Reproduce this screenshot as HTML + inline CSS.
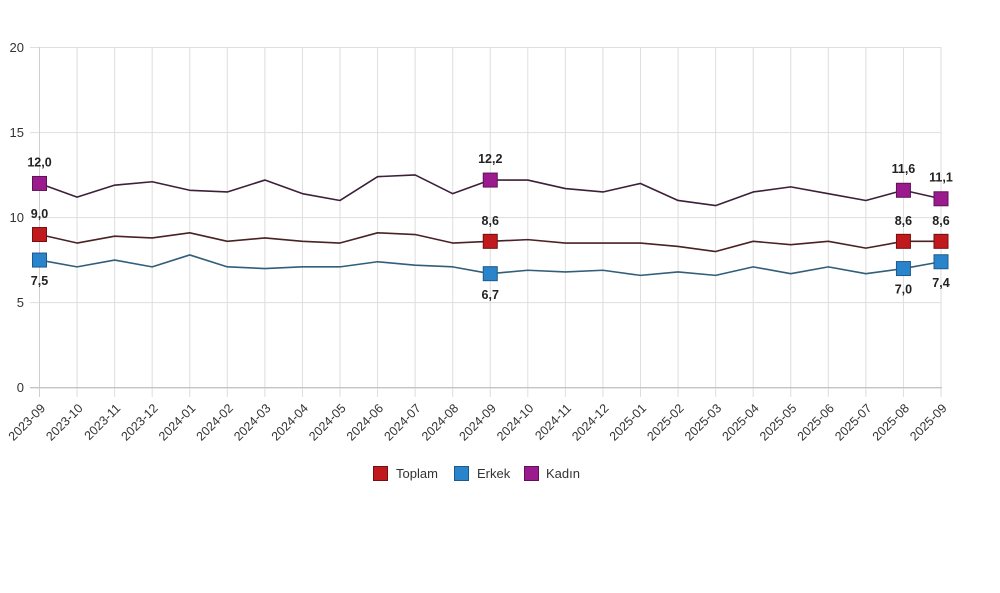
<!DOCTYPE html>
<html>
<head>
<meta charset="utf-8">
<style>
html,body{margin:0;padding:0;background:#fff;}
svg{display:block;font-family:"Liberation Sans",Arial,sans-serif;}
</style>
</head>
<body>
<svg width="1000" height="593" viewBox="0 0 1000 593" xmlns="http://www.w3.org/2000/svg">
<rect width="1000" height="593" fill="#fff"/>
<!-- horizontal grid -->
<g stroke="#dedede" stroke-width="1">
<line x1="30" y1="47.5" x2="941" y2="47.5"/>
<line x1="30" y1="132.6" x2="941" y2="132.6"/>
<line x1="30" y1="217.6" x2="941" y2="217.6"/>
<line x1="30" y1="302.6" x2="941" y2="302.6"/>
</g>
<!-- vertical grid -->
<g stroke="#dedede" stroke-width="1">
<line x1="77.06" y1="47" x2="77.06" y2="397"/>
<line x1="114.63" y1="47" x2="114.63" y2="397"/>
<line x1="152.19" y1="47" x2="152.19" y2="397"/>
<line x1="189.75" y1="47" x2="189.75" y2="397"/>
<line x1="227.31" y1="47" x2="227.31" y2="397"/>
<line x1="264.88" y1="47" x2="264.88" y2="397"/>
<line x1="302.44" y1="47" x2="302.44" y2="397"/>
<line x1="340" y1="47" x2="340" y2="397"/>
<line x1="377.56" y1="47" x2="377.56" y2="397"/>
<line x1="415.13" y1="47" x2="415.13" y2="397"/>
<line x1="452.69" y1="47" x2="452.69" y2="397"/>
<line x1="490.25" y1="47" x2="490.25" y2="397"/>
<line x1="527.81" y1="47" x2="527.81" y2="397"/>
<line x1="565.38" y1="47" x2="565.38" y2="397"/>
<line x1="602.94" y1="47" x2="602.94" y2="397"/>
<line x1="640.5" y1="47" x2="640.5" y2="397"/>
<line x1="678.06" y1="47" x2="678.06" y2="397"/>
<line x1="715.63" y1="47" x2="715.63" y2="397"/>
<line x1="753.19" y1="47" x2="753.19" y2="397"/>
<line x1="790.75" y1="47" x2="790.75" y2="397"/>
<line x1="828.31" y1="47" x2="828.31" y2="397"/>
<line x1="865.88" y1="47" x2="865.88" y2="397"/>
<line x1="903.44" y1="47" x2="903.44" y2="397"/>
<line x1="941" y1="47" x2="941" y2="397"/>
</g>
<line x1="39.5" y1="47" x2="39.5" y2="397" stroke="#cfcfcf" stroke-width="1"/>
<line x1="30" y1="387.7" x2="942" y2="387.7" stroke="#c4c4c4" stroke-width="1.3"/>

<!-- y labels -->
<g font-size="13" fill="#333" text-anchor="end">
<text x="24" y="52">20</text>
<text x="24" y="137">15</text>
<text x="24" y="222">10</text>
<text x="24" y="307">5</text>
<text x="24" y="392">0</text>
</g>

<!-- x labels -->
<g font-size="12.5" fill="#333" text-anchor="end">
<text transform="translate(46,409) rotate(-45)">2023-09</text>
<text transform="translate(83.56,409) rotate(-45)">2023-10</text>
<text transform="translate(121.13,409) rotate(-45)">2023-11</text>
<text transform="translate(158.69,409) rotate(-45)">2023-12</text>
<text transform="translate(196.25,409) rotate(-45)">2024-01</text>
<text transform="translate(233.81,409) rotate(-45)">2024-02</text>
<text transform="translate(271.38,409) rotate(-45)">2024-03</text>
<text transform="translate(308.94,409) rotate(-45)">2024-04</text>
<text transform="translate(346.5,409) rotate(-45)">2024-05</text>
<text transform="translate(384.06,409) rotate(-45)">2024-06</text>
<text transform="translate(421.63,409) rotate(-45)">2024-07</text>
<text transform="translate(459.19,409) rotate(-45)">2024-08</text>
<text transform="translate(496.75,409) rotate(-45)">2024-09</text>
<text transform="translate(534.31,409) rotate(-45)">2024-10</text>
<text transform="translate(571.88,409) rotate(-45)">2024-11</text>
<text transform="translate(609.44,409) rotate(-45)">2024-12</text>
<text transform="translate(647,409) rotate(-45)">2025-01</text>
<text transform="translate(684.56,409) rotate(-45)">2025-02</text>
<text transform="translate(722.13,409) rotate(-45)">2025-03</text>
<text transform="translate(759.69,409) rotate(-45)">2025-04</text>
<text transform="translate(797.25,409) rotate(-45)">2025-05</text>
<text transform="translate(834.81,409) rotate(-45)">2025-06</text>
<text transform="translate(872.38,409) rotate(-45)">2025-07</text>
<text transform="translate(909.94,409) rotate(-45)">2025-08</text>
<text transform="translate(947.5,409) rotate(-45)">2025-09</text>
</g>

<!-- series lines -->
<g fill="none" stroke-width="1.6" stroke-linejoin="round">
<polyline stroke="#3e1f3a" points="39.5,183.46 77.06,197.08 114.63,185.16 152.19,181.76 189.75,190.27 227.31,191.97 264.88,180.06 302.44,193.67 340,200.48 377.56,176.65 415.13,174.95 452.69,193.67 490.25,180.06 527.81,180.06 565.38,188.57 602.94,191.97 640.5,183.46 678.06,200.48 715.63,205.59 753.19,191.97 790.75,186.86 828.31,193.67 865.88,200.48 903.44,190.27 941,198.78"/>
<polyline stroke="#4a2124" points="39.5,234.52 77.06,243.03 114.63,236.22 152.19,237.92 189.75,232.82 227.31,241.33 264.88,237.92 302.44,241.33 340,243.03 377.56,232.82 415.13,234.52 452.69,243.03 490.25,241.33 527.81,239.63 565.38,243.03 602.94,243.03 640.5,243.03 678.06,246.43 715.63,251.54 753.19,241.33 790.75,244.73 828.31,241.33 865.88,248.14 903.44,241.33 941,241.33"/>
<polyline stroke="#315e7a" points="39.5,260.05 77.06,266.86 114.63,260.05 152.19,266.86 189.75,254.94 227.31,266.86 264.88,268.56 302.44,266.86 340,266.86 377.56,261.75 415.13,265.16 452.69,266.86 490.25,273.67 527.81,270.26 565.38,271.96 602.94,270.26 640.5,275.37 678.06,271.96 715.63,275.37 753.19,266.86 790.75,273.67 828.31,266.86 865.88,273.67 903.44,268.56 941,261.75"/>
</g>

<!-- markers -->
<g stroke-width="1">
<g fill="#9b1b8e" stroke="#5e1256">
<rect x="32.5" y="176.46" width="14" height="14"/>
<rect x="483.25" y="173.06" width="14" height="14"/>
<rect x="896.44" y="183.27" width="14" height="14"/>
<rect x="934" y="191.78" width="14" height="14"/>
</g>
<g fill="#c01a1c" stroke="#731012">
<rect x="32.5" y="227.52" width="14" height="14"/>
<rect x="483.25" y="234.33" width="14" height="14"/>
<rect x="896.44" y="234.33" width="14" height="14"/>
<rect x="934" y="234.33" width="14" height="14"/>
</g>
<g fill="#2a84cc" stroke="#1d5a8c">
<rect x="32.5" y="253.05" width="14" height="14"/>
<rect x="483.25" y="266.67" width="14" height="14"/>
<rect x="896.44" y="261.56" width="14" height="14"/>
<rect x="934" y="254.75" width="14" height="14"/>
</g>
</g>

<!-- data labels -->
<g font-size="12.5" font-weight="bold" fill="#222" text-anchor="middle">
<text x="39.5" y="166.5">12,0</text>
<text x="490.25" y="163">12,2</text>
<text x="903.44" y="173">11,6</text>
<text x="941" y="181.5">11,1</text>
<text x="39.5" y="218">9,0</text>
<text x="490.25" y="225">8,6</text>
<text x="903.44" y="225">8,6</text>
<text x="941" y="225">8,6</text>
<text x="39.5" y="285">7,5</text>
<text x="490.25" y="299">6,7</text>
<text x="903.44" y="293.5">7,0</text>
<text x="941" y="287">7,4</text>
</g>

<!-- legend -->
<g font-size="13" fill="#333">
<rect x="373.5" y="466.5" width="14" height="14" fill="#c01a1c" stroke="#731012"/>
<text x="396" y="478">Toplam</text>
<rect x="454.5" y="466.5" width="14" height="14" fill="#2a84cc" stroke="#1d5a8c"/>
<text x="477" y="478">Erkek</text>
<rect x="524.5" y="466.5" width="14" height="14" fill="#9b1b8e" stroke="#5e1256"/>
<text x="546" y="478">Kadın</text>
</g>
</svg>
</body>
</html>
